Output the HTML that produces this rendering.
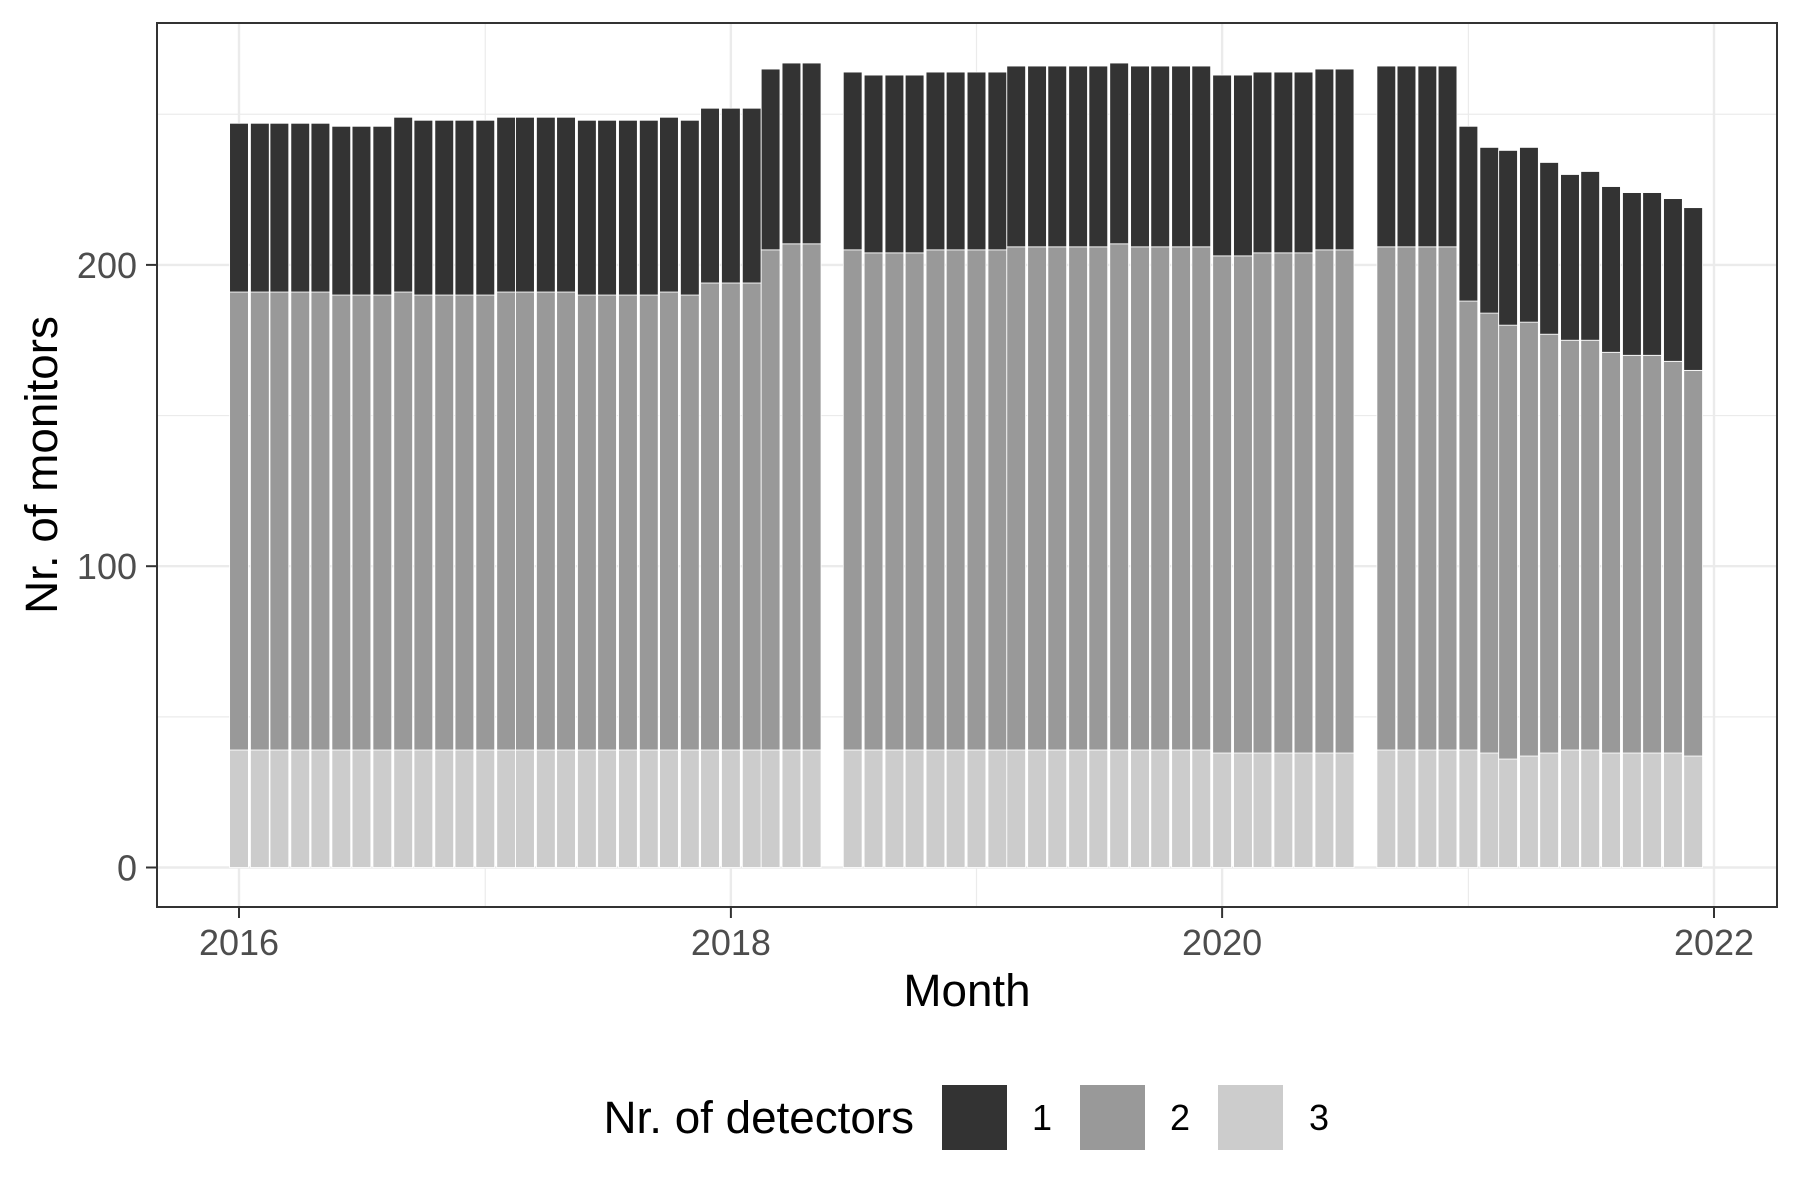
<!DOCTYPE html>
<html><head><meta charset="utf-8"><style>
html,body{margin:0;padding:0;background:#fff;}
svg{display:block;font-family:"Liberation Sans",Arial,sans-serif;}
</style></head><body>
<svg id="chart" width="1800" height="1200" viewBox="0 0 1800 1200">
<rect x="0" y="0" width="1800" height="1200" fill="#fff"/>
<g id="grid"></g>
<g id="bars"></g>
<rect x="157" y="23" width="1620" height="884" fill="none" stroke="#333" stroke-width="2"/>
<g id="axes"></g>
<text x="967" y="1006" text-anchor="middle" font-size="45.8" fill="#000">Month</text>
<text transform="translate(57,465) rotate(-90)" text-anchor="middle" font-size="45.8" fill="#000">Nr. of monitors</text>
<g>
<text x="914" y="1133" text-anchor="end" font-size="45.8" fill="#000">Nr. of detectors</text>
<rect x="942" y="1085" width="65" height="65" fill="#333333"/>
<text x="1042" y="1130" text-anchor="middle" font-size="36" fill="#000">1</text>
<rect x="1080" y="1085" width="65" height="65" fill="#999999"/>
<text x="1180" y="1130" text-anchor="middle" font-size="36" fill="#000">2</text>
<rect x="1218" y="1085" width="65" height="65" fill="#CCCCCC"/>
<text x="1319" y="1130" text-anchor="middle" font-size="36" fill="#000">3</text>
</g>
</svg>
<script>
const months = ["2016-01","2016-02","2016-03","2016-04","2016-05","2016-06","2016-07","2016-08","2016-09","2016-10","2016-11","2016-12",
"2017-01","2017-02","2017-03","2017-04","2017-05","2017-06","2017-07","2017-08","2017-09","2017-10","2017-11","2017-12",
"2018-01","2018-02","2018-03","2018-04","2018-05",
"2018-07","2018-08","2018-09","2018-10","2018-11","2018-12",
"2019-01","2019-02","2019-03","2019-04","2019-05","2019-06","2019-07","2019-08","2019-09","2019-10","2019-11","2019-12",
"2020-01","2020-02","2020-03","2020-04","2020-05","2020-06","2020-07",
"2020-09","2020-10","2020-11","2020-12",
"2021-01","2021-02","2021-03","2021-04","2021-05","2021-06","2021-07","2021-08","2021-09","2021-10","2021-11","2021-12"];
const det1 = [56,56,56,56,56,56,56,56,58,58,58,58,58,58,58,58,58,58,58,58,58,58,58,58,58,58,60,60,60,
59,59,59,59,59,59,59,59,60,60,60,60,60,60,60,60,60,60,60,60,60,60,60,60,60,
60,60,60,60,58,55,58,58,57,55,56,55,54,54,54,54];
const det2 = [152,152,152,152,152,151,151,151,152,151,151,151,151,152,152,152,152,151,151,151,151,152,151,155,155,155,166,168,168,
166,165,165,165,166,166,166,166,167,167,167,167,167,168,167,167,167,167,165,165,166,166,166,167,167,
167,167,167,167,149,146,144,144,139,136,136,133,132,132,130,128];
const det3 = [39,39,39,39,39,39,39,39,39,39,39,39,39,39,39,39,39,39,39,39,39,39,39,39,39,39,39,39,39,
39,39,39,39,39,39,39,39,39,39,39,39,39,39,39,39,39,39,38,38,38,38,38,38,38,
39,39,39,39,39,38,36,37,38,39,39,38,38,38,38,37];
const yTicks = [0,100,200];
const yMinor = [50,150,250];
const xTicks = ["2016","2018","2020","2022"];
const xMinor = ["2017","2019","2021"];

const NS = "http://www.w3.org/2000/svg";
const T0 = Date.UTC(2016,0,1);
const DAY = 86400000;
const PXDAY = 1475/2192;
function xScale(d){ return 239 + ((d - T0)/DAY) * PXDAY; }
function yScale(v){ return 867.5 - v*3.013; }
function monthDate(s){ const p=s.split("-"); return Date.UTC(+p[0], +p[1]-1, 1); }
function yearDate(s){ return Date.UTC(+s,0,1); }
function mk(tag, attrs, parent){ const e=document.createElementNS(NS,tag); for(const k in attrs) e.setAttribute(k, attrs[k]); parent.appendChild(e); return e; }

const grid = document.getElementById("grid");
const PL=157, PR=1777, PT=23, PB=907;
yMinor.forEach(v=>{ const l=mk("line",{x1:PL,x2:PR,y1:yScale(v),y2:yScale(v),stroke:"#EBEBEB","stroke-width":1.2},grid);
 
  });
xMinor.forEach(s=>{ const x=xScale(yearDate(s)); const l=mk("line",{x1:x,x2:x,y1:PT,y2:PB,stroke:"#EBEBEB","stroke-width":1.2},grid);
 
  });
yTicks.forEach(v=>{ const l=mk("line",{x1:PL,x2:PR,y1:yScale(v),y2:yScale(v),stroke:"#EBEBEB","stroke-width":2.4},grid);
 
  });
xTicks.forEach(s=>{ const x=xScale(yearDate(s)); const l=mk("line",{x1:x,x2:x,y1:PT,y2:PB,stroke:"#EBEBEB","stroke-width":2.4},grid);
 
  });

const bars = document.getElementById("bars");
const BW = 27.9*PXDAY;
months.forEach((m,i)=>{
  const cx = xScale(monthDate(m));
  const segs = [[0, det3[i], "#CCCCCC", "bar-3-detectors"],
                [det3[i], det3[i]+det2[i], "#999999", "bar-2-detectors"],
                [det3[i]+det2[i], det3[i]+det2[i]+det1[i], "#333333", "bar-1-detector"]];
  segs.forEach(s=>{
    const y1=yScale(s[1]), y0=yScale(s[0]);
    const r = mk("rect",{x:cx-BW/2,y:y1,width:BW,height:y0-y1,fill:s[2],stroke:"#ffffff","stroke-width":0.8},bars);
    
    
  });
});

const axes = document.getElementById("axes");
yTicks.forEach(v=>{
  const y=yScale(v);
  const t=mk("line",{x1:146,x2:157,y1:y,y2:y,stroke:"#333","stroke-width":2},axes);
  
  
  const tx=mk("text",{x:137,y:y+13,"text-anchor":"end","font-size":36,fill:"#4D4D4D"},axes);
  tx.textContent=String(v);
  
  
});
xTicks.forEach(s=>{
  const x=xScale(yearDate(s));
  const t=mk("line",{x1:x,x2:x,y1:907,y2:918,stroke:"#333","stroke-width":2},axes);
  
  
  const tx=mk("text",{x:x,y:955,"text-anchor":"middle","font-size":36,fill:"#4D4D4D"},axes);
  tx.textContent=s;
  
  
});
</script>
</body></html>
